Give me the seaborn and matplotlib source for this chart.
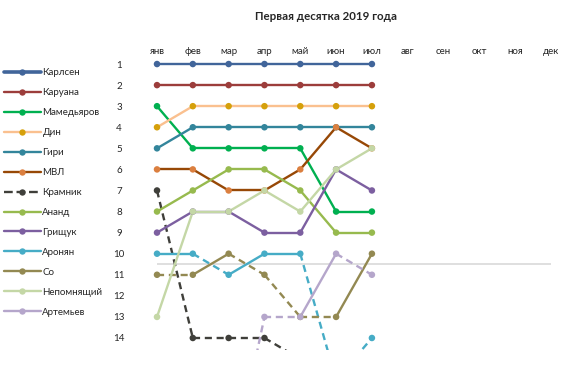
import numpy as np
import pandas as pd
import matplotlib
matplotlib.use("Agg")
import matplotlib.pyplot as plt
from matplotlib.lines import Line2D
import seaborn as sns

# Данные: места в рейтинге по месяцам (NaN - нет на графике)
months = ["янв", "фев", "мар", "апр", "май", "июн", "июл",
          "авг", "сен", "окт", "ноя", "дек"]
players = ["Карлсен", "Каруана", "Мамедьяров", "Дин", "Гири", "МВЛ", "Крамник",
           "Ананд", "Грищук", "Аронян", "Со", "Непомнящий", "Артемьев"]
nan = np.nan
ranks = {
    "Карлсен":    [1, 1, 1, 1, 1, 1, 1],
    "Каруана":    [2, 2, 2, 2, 2, 2, 2],
    "Мамедьяров": [3, 5, 5, 5, 5, 8, 8],
    "Дин":        [4, 3, 3, 3, 3, 3, 3],
    "Гири":       [5, 4, 4, 4, 4, 4, 4],
    "МВЛ":        [6, 6, 7, 7, 6, 4, 5],
    "Крамник":    [7, 14, 14, 14, 15, nan, nan],
    "Ананд":      [8, 7, 6, 6, 7, 9, 9],
    "Грищук":     [9, 8, 8, 9, 9, 6, 7],
    "Аронян":     [10, 10, 11, 10, 10, 16, 14],
    "Со":         [11, 11, 10, 11, 13, 13, 10],
    "Непомнящий": [13, 8, 8, 7, 8, 6, 5],
    "Артемьев":   [nan, nan, 21, 13, 13, 10, 11],
}
rank_ticks = list(range(1, 15))
top_cut = 10.5

line_colors = ["#41659A", "#9C3D3B", "#00B050", "#FAC08F", "#33859B", "#974806",
               "#3F3F3A", "#97BA4E", "#7C5FA0", "#46ACC6", "#938952", "#C4D7A6", "#B5A6CB"]
marker_colors = ["#41659A", "#9C3D3B", "#00B050", "#D5A00B", "#33859B", "#DB7F3F",
                 "#3F3F3A", "#97BA4E", "#7C5FA0", "#46ACC6", "#938952", "#C4D7A6", "#B5A6CB"]

# точки
rows = []
for p in players:
    for i, r in enumerate(ranks[p]):
        rows.append({"player": p, "month": i, "rank": r})
pts = pd.DataFrame(rows).dropna()

# отрезки: пунктир, если игрок уходит за пределы десятки
seg_rows = []
seg_id = 0
for p in players:
    vals = ranks[p]
    for i in range(len(vals) - 1):
        a, b = vals[i], vals[i + 1]
        if np.isnan(a) or np.isnan(b):
            continue
        dashed = b > top_cut
        seg_rows.append({"player": p, "month": i, "rank": a, "seg": seg_id, "dashed": dashed})
        seg_rows.append({"player": p, "month": i + 1, "rank": b, "seg": seg_id, "dashed": dashed})
        seg_id += 1
segs = pd.DataFrame(seg_rows)

sns.set_style("white")
plt.rcParams["font.family"] = ["Lato", "DejaVu Sans"]

fig = plt.figure(figsize=(5.73, 3.66), dpi=100)
ax = fig.add_axes([139.1 / 573, 16 / 366, 429.8 / 573, 296.5 / 366])

ax.hlines(top_cut, 0, len(months) - 1, color="#D9D9D9", lw=1.2, zorder=0)

sns.lineplot(data=segs, x="month", y="rank", hue="player", hue_order=players,
             palette=dict(zip(players, line_colors)), style="dashed",
             dashes={False: "", True: (3, 2)}, units="seg", estimator=None,
             sort=False, lw=1.7, legend=False, ax=ax)
sns.scatterplot(data=pts, x="month", y="rank", hue="player", hue_order=players,
                palette=dict(zip(players, marker_colors)), s=22, linewidth=0,
                legend=False, ax=ax, zorder=3)

ax.set_xlim(-0.5, len(months) - 0.5)
ax.set_ylim(14.57, 0.5)
ax.set_xticks(range(len(months)))
ax.set_xticklabels(months)
ax.set_yticks(rank_ticks)
ax.set_yticklabels([str(t) for t in rank_ticks])
for lab in ax.get_yticklabels():
    lab.set_ha("center")
ax.tick_params(axis="x", top=False, bottom=False, labeltop=True, labelbottom=False,
               pad=-5, labelsize=7)
ax.tick_params(axis="y", left=False, pad=11, labelsize=7)
ax.set_xlabel("")
ax.set_ylabel("")
sns.despine(ax=ax, left=True, bottom=True)

fig.text(326 / 573, 1 - 17 / 366, "Первая десятка 2019 года", ha="center", va="center",
         fontsize=8.3, fontweight="bold")

handles = []
for p, lc, mc in zip(players, line_colors, marker_colors):
    handles.append(Line2D([], [], color=lc, lw=2.6 if p == "Карлсен" else 1.7,
                          ls="--" if p == "Крамник" else "-",
                          marker="o", markersize=4.6, markerfacecolor=mc,
                          markeredgewidth=0))
fig.legend(handles, players, loc="upper left", bbox_to_anchor=(4 / 573, 1 - 68 / 366),
           frameon=False, fontsize=7, handlelength=3.8, handletextpad=0.15,
           labelspacing=1.13, borderpad=0, borderaxespad=0)

fig.savefig("out.png", dpi=100)
